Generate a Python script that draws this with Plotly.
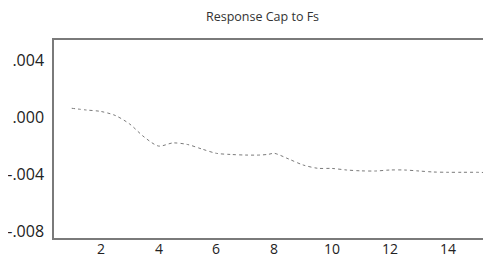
import plotly.graph_objects as go

periods = [1, 1.5, 2, 2.5, 3, 3.5, 4, 4.5, 5, 5.5, 6, 6.5, 7, 7.5, 7.8, 8, 8.5, 9, 9.5, 10,
           10.5, 11, 11.5, 12, 12.5, 13, 13.5, 14, 14.5, 15, 15.3]
response = [0.00061, 0.00049, 0.00039, 0.00011, -0.00049, -0.0014, -0.00204, -0.00182,
            -0.00193, -0.00225, -0.00255, -0.00263, -0.00267, -0.00267, -0.00262, -0.00255,
            -0.00295, -0.00337, -0.0036, -0.00361, -0.00372, -0.00378, -0.00379, -0.00372,
            -0.00372, -0.00379, -0.00386, -0.00388, -0.00388, -0.00388, -0.0039]

x_tickvals = [2, 4, 6, 8, 10, 12, 14]
y_tickvals = [0.004, 0.0, -0.004, -0.008]
y_ticktext = [".004", ".000", "-.004", "-.008"]

fig = go.Figure()
fig.add_trace(go.Scatter(
    x=periods, y=response, mode="lines",
    line=dict(color="#7a7a7a", width=1, dash="dot", shape="spline", smoothing=0.8),
    hoverinfo="skip", showlegend=False,
))

# x tick labels as annotations tied to the x data scale (kept tight to the axis)
for v in x_tickvals:
    fig.add_annotation(
        x=v, xref="x", y=0, yref="paper", yanchor="top", yshift=0,
        text=str(v), showarrow=False, borderpad=0,
        font=dict(family="Open Sans", size=14, color="#222222"),
    )

# page body has an 8px margin, so the figure is sized/offset to compensate
fig.update_layout(
    width=483, height=246,
    margin=dict(l=46, r=0, t=32, b=16),
    paper_bgcolor="white", plot_bgcolor="white",
    title=dict(text="Response Cap to Fs", x=0.527, xanchor="center", y=0.963, yanchor="middle",
               font=dict(family="Open Sans", size=12.5, color="#333333")),
    font=dict(family="Open Sans", color="#222222"),
    showlegend=False,
)
fig.update_xaxes(
    range=[0.387, 15.49], tickvals=x_tickvals, showticklabels=False, showgrid=False,
    zeroline=False, showline=True, linecolor="#7a7a7a", linewidth=1.5, mirror=True,
    ticks="", automargin=False,
)
fig.update_yaxes(
    range=[-0.00849, 0.0054], tickvals=y_tickvals, ticktext=y_ticktext,
    showgrid=False, zeroline=False, showline=True, linecolor="#7a7a7a", linewidth=1.5,
    ticks="", ticklabelstandoff=5, tickfont=dict(size=16, color="#222222"),
    automargin=False,
)

fig.write_html("out.html")
